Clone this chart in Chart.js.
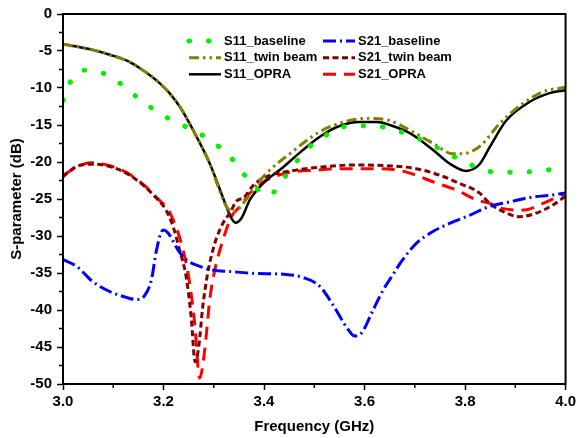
<!DOCTYPE html>
<html>
<head>
<meta charset="utf-8">
<script src="https://cdn.jsdelivr.net/npm/chart.js@4"></script>
<style>
  html, body { margin: 0; padding: 0; background: #fff; }
</style>
</head>
<body>
<canvas id="chart" width="579" height="438"></canvas>
<script>
// values (frequency in GHz, level in dB)
const s11BaseFreq = [3.0, 3.012, 3.041, 3.076, 3.11, 3.14, 3.17, 3.204, 3.239, 3.273, 3.304, 3.331, 3.357, 3.38, 3.41, 3.438, 3.461, 3.483, 3.518, 3.554, 3.59, 3.63, 3.667, 3.703, 3.737, 3.771, 3.806, 3.842, 3.882, 3.92, 3.958, 4.0];
const s11BaseDb = [-11.7, -9.5, -7.6, -7.9, -9.2, -10.85, -12.4, -13.9, -15.05, -16.2, -17.6, -19.15, -21.4, -23.3, -24.5, -22.3, -20.3, -18.4, -16.6, -15.3, -15.1, -15.2, -15.8, -16.7, -17.8, -19.05, -20.2, -21.2, -21.4, -21.35, -21.1, -20.8];

const s21BaseFreq = [3.0, 3.027, 3.06, 3.093, 3.126, 3.146, 3.163, 3.176, 3.186, 3.199, 3.209, 3.229, 3.245, 3.272, 3.298, 3.332, 3.378, 3.444, 3.477, 3.511, 3.537, 3.564, 3.58, 3.594, 3.617, 3.637, 3.65, 3.676, 3.703, 3.736, 3.769, 3.809, 3.849, 3.888, 3.928, 3.968, 4.0];
const s21BaseDb = [-33.2, -34.1, -36.2, -37.5, -38.3, -38.6, -38.0, -35.9, -31.9, -29.2, -29.6, -31.9, -33.2, -34.1, -34.6, -34.8, -35.05, -35.2, -35.6, -36.8, -39.3, -42.3, -43.5, -43.1, -40.0, -37.3, -35.9, -33.2, -31.0, -29.4, -28.3, -27.2, -26.0, -25.4, -24.8, -24.5, -24.2];

const s11TwinFreq = [3.0, 3.05, 3.093, 3.13, 3.159, 3.19, 3.212, 3.235, 3.259, 3.292, 3.322, 3.338, 3.35, 3.365, 3.385, 3.405, 3.451, 3.511, 3.564, 3.61, 3.65, 3.69, 3.737, 3.776, 3.793, 3.829, 3.869, 3.915, 3.955, 4.0];
const s11TwinDb = [-4.1, -4.7, -5.5, -6.4, -7.6, -9.2, -10.7, -12.8, -15.7, -20.2, -25.6, -26.8, -26.3, -25.0, -23.1, -21.5, -18.9, -15.9, -14.5, -14.1, -14.4, -15.7, -17.5, -18.9, -18.9, -17.9, -14.8, -12.1, -10.5, -9.9];

const s21TwinFreq = [3.0, 3.027, 3.06, 3.093, 3.126, 3.159, 3.186, 3.204, 3.219, 3.232, 3.245, 3.255, 3.263, 3.27, 3.278, 3.288, 3.302, 3.318, 3.332, 3.345, 3.36, 3.378, 3.395, 3.411, 3.464, 3.511, 3.577, 3.643, 3.703, 3.75, 3.789, 3.829, 3.849, 3.876, 3.909, 3.942, 3.975, 4.0];
const s21TwinDb = [-22.0, -20.6, -20.3, -20.6, -21.5, -23.1, -24.9, -26.4, -28.7, -31.9, -35.5, -40.9, -47.0, -45.0, -39.6, -35.0, -31.0, -28.3, -26.9, -25.3, -24.8, -23.2, -22.3, -21.8, -21.1, -20.7, -20.4, -20.5, -20.9, -21.8, -22.9, -24.2, -25.6, -26.7, -27.4, -26.9, -25.8, -24.6];

const s11OpraFreq = [3.0, 3.05, 3.093, 3.13, 3.159, 3.19, 3.212, 3.235, 3.259, 3.292, 3.325, 3.335, 3.343, 3.355, 3.372, 3.398, 3.438, 3.477, 3.511, 3.544, 3.59, 3.625, 3.65, 3.69, 3.737, 3.769, 3.802, 3.829, 3.849, 3.882, 3.928, 3.968, 4.0];
const s11OpraDb = [-4.1, -4.7, -5.5, -6.4, -7.6, -9.2, -10.7, -12.8, -15.7, -20.2, -26.0, -27.6, -28.2, -27.6, -25.1, -22.9, -20.7, -18.4, -16.6, -15.3, -14.6, -14.6, -15.0, -16.1, -18.4, -20.2, -21.2, -20.3, -18.0, -14.4, -11.9, -10.7, -10.3];

const s21OpraFreq = [3.0, 3.03, 3.055, 3.093, 3.126, 3.159, 3.186, 3.213, 3.239, 3.252, 3.262, 3.272, 3.282, 3.292, 3.302, 3.318, 3.335, 3.352, 3.372, 3.398, 3.444, 3.504, 3.564, 3.61, 3.657, 3.69, 3.737, 3.783, 3.822, 3.849, 3.876, 3.915, 3.955, 4.0];
const s21OpraDb = [-21.8, -20.6, -20.1, -20.5, -21.4, -23.0, -24.8, -26.9, -31.9, -36.4, -41.8, -49.2, -45.4, -38.6, -34.6, -30.6, -27.4, -26.0, -24.2, -22.7, -21.5, -21.1, -20.9, -20.9, -21.0, -21.5, -22.7, -23.8, -25.1, -25.6, -26.3, -26.5, -25.6, -24.2];

const seriesNames = ['S11_baseline', 'S21_baseline', 'S11_twin beam', 'S21_twin beam', 'S11_OPRA', 'S21_OPRA'];

// axis ranges / ticks
const xMin = 3.0, xMax = 4.0, xStep = 0.2;
const yMin = -50, yMax = 0, yStep = 5;

const FONT = '"Liberation Sans", Arial, sans-serif';

const toPoints = (xs, ys) => xs.map((x, i) => ({ x: x, y: ys[i] }));

const styles = [
    { color: '#00ee00', width: 5, dash: [0.5, 19], cap: 'round' },
    { color: '#0000ff', width: 3, dash: [13, 4, 2, 4], cap: 'butt' },
    { color: '#808000', width: 3, dash: [10, 4, 2.5, 4, 2.5, 4], cap: 'butt' },
    { color: '#800000', width: 3, dash: [6, 3.5], cap: 'butt' },
    { color: '#000000', width: 2.5, dash: [], cap: 'butt' },
    { color: '#ff0000', width: 3, dash: [13, 8], cap: 'butt' }
];

const series = [
    toPoints(s11BaseFreq, s11BaseDb),
    toPoints(s21BaseFreq, s21BaseDb),
    toPoints(s11TwinFreq, s11TwinDb),
    toPoints(s21TwinFreq, s21TwinDb),
    toPoints(s11OpraFreq, s11OpraDb),
    toPoints(s21OpraFreq, s21OpraDb)
];

const datasets = series.map((pts, i) => ({
    label: seriesNames[i],
    data: pts,
    borderColor: styles[i].color,
    borderWidth: styles[i].width,
    borderDash: styles[i].dash,
    borderCapStyle: styles[i].cap,
    pointRadius: 0,
    fill: false,
    cubicInterpolationMode: 'monotone'
}));

// minor ticks, frame and the two-column legend inside the plot
const extras = {
    id: 'extras',
    afterDatasetsDraw(chart) {
        const { ctx, chartArea: a, scales: { x, y } } = chart;
        ctx.save();
        ctx.strokeStyle = '#000';
        ctx.lineWidth = 1.5;
        ctx.beginPath();
        for (let v = xMin + xStep / 2; v < xMax; v += xStep) {
            const px = x.getPixelForValue(v);
            ctx.moveTo(px, a.bottom);
            ctx.lineTo(px, a.bottom + 4);
        }
        for (let v = yMin + yStep / 2; v < yMax; v += yStep) {
            const py = y.getPixelForValue(v);
            ctx.moveTo(a.left, py);
            ctx.lineTo(a.left - 4, py);
        }
        ctx.stroke();
        ctx.lineWidth = 2;
        ctx.strokeRect(a.left, a.top, a.right - a.left, a.bottom - a.top);

        // legend
        const colX = [189, 323];
        const rowY = [41, 57.7, 74.3];
        ctx.font = 'bold 13px ' + FONT;
        ctx.textBaseline = 'middle';
        ctx.fillStyle = '#000';
        chart.data.datasets.forEach((ds, i) => {
            const lx = colX[i % 2], ly = rowY[Math.floor(i / 2)];
            ctx.save();
            ctx.strokeStyle = ds.borderColor;
            ctx.lineWidth = ds.borderWidth;
            ctx.lineCap = ds.borderCapStyle;
            ctx.setLineDash(ds.borderDash);
            ctx.beginPath();
            ctx.moveTo(lx, ly);
            ctx.lineTo(lx + 32, ly);
            ctx.stroke();
            ctx.restore();
            ctx.fillText(ds.label, lx + 35, ly);
        });
        ctx.restore();
    }
};

const tickFont = { family: FONT, weight: 'bold', size: 15 };

new Chart(document.getElementById('chart').getContext('2d'), {
    type: 'line',
    data: { datasets: datasets },
    plugins: [extras],
    options: {
        responsive: false,
        animation: false,
        layout: { padding: { top: 14, right: 13, left: 0, bottom: 0 } },
        plugins: {
            legend: { display: false },
            tooltip: { enabled: false }
        },
        scales: {
            x: {
                type: 'linear',
                min: xMin,
                max: xMax,
                afterFit: s => { s.height = 54; },
                ticks: {
                    stepSize: xStep,
                    color: '#000',
                    font: tickFont,
                    padding: 3,
                    maxRotation: 0,
                    callback: v => v.toFixed(1)
                },
                grid: { drawOnChartArea: false, drawTicks: true, tickLength: 6, tickColor: '#000', tickWidth: 1.5 },
                border: { display: true, color: '#000', width: 2 },
                title: {
                    display: true,
                    text: 'Frequency (GHz)',
                    color: '#000',
                    font: { family: FONT, weight: 'bold', size: 15 },
                    padding: { top: 0, bottom: 2 }
                }
            },
            y: {
                type: 'linear',
                min: yMin,
                max: yMax,
                afterFit: s => { s.width = 63; },
                ticks: {
                    stepSize: yStep,
                    color: '#000',
                    font: tickFont,
                    padding: 5,
                    callback: v => String(v)
                },
                grid: { drawOnChartArea: false, drawTicks: true, tickLength: 6, tickColor: '#000', tickWidth: 1.5 },
                border: { display: true, color: '#000', width: 2 },
                title: {
                    display: true,
                    text: 'S-parameter (dB)',
                    color: '#000',
                    font: { family: FONT, weight: 'bold', size: 15 },
                    padding: { top: 8, bottom: 0 }
                }
            }
        }
    }
});
</script>
</body>
</html>
